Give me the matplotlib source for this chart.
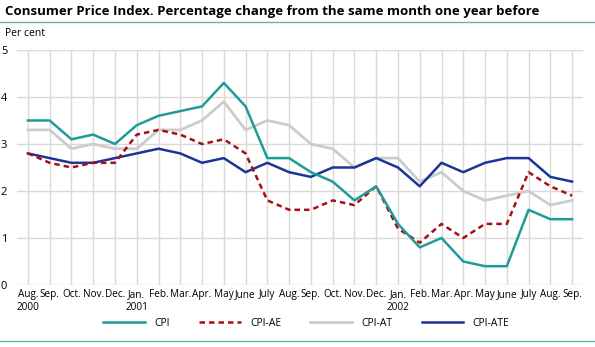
import matplotlib.pyplot as plt
import matplotlib.lines as mlines

plt.rcParams['font.family'] = ['Open Sans', 'DejaVu Sans']

months = ['Aug.', 'Sep.', 'Oct.', 'Nov.', 'Dec.', 'Jan.', 'Feb.', 'Mar.', 'Apr.', 'May', 'June', 'July',
          'Aug.', 'Sep.', 'Oct.', 'Nov.', 'Dec.', 'Jan.', 'Feb.', 'Mar.', 'Apr.', 'May', 'June', 'July',
          'Aug.', 'Sep.']
years = {0: '2000', 5: '2001', 17: '2002'}

cpi = [3.5, 3.5, 3.1, 3.2, 3.0, 3.4, 3.6, 3.7, 3.8, 4.3, 3.8, 2.7, 2.7,
       2.4, 2.2, 1.8, 2.1, 1.3, 0.8, 1.0, 0.5, 0.4, 0.4, 1.6, 1.4, 1.4]
cpi_ae = [2.8, 2.6, 2.5, 2.6, 2.6, 3.2, 3.3, 3.2, 3.0, 3.1, 2.8, 1.8, 1.6,
          1.6, 1.8, 1.7, 2.1, 1.2, 0.9, 1.3, 1.0, 1.3, 1.3, 2.4, 2.1, 1.9]
cpi_at = [3.3, 3.3, 2.9, 3.0, 2.9, 2.9, 3.3, 3.3, 3.5, 3.9, 3.3, 3.5, 3.4,
          3.0, 2.9, 2.5, 2.7, 2.7, 2.2, 2.4, 2.0, 1.8, 1.9, 2.0, 1.7, 1.8]
cpi_ate = [2.8, 2.7, 2.6, 2.6, 2.7, 2.8, 2.9, 2.8, 2.6, 2.7, 2.4, 2.6, 2.4,
           2.3, 2.5, 2.5, 2.7, 2.5, 2.1, 2.6, 2.4, 2.6, 2.7, 2.7, 2.3, 2.2]

teal = '#1f9c9a'
red = '#a50f15'
grey = '#cccccc'
navy = '#1c3496'

fig = plt.figure(figsize=(5.95, 3.47), dpi=100)
ax = fig.add_axes([17/595, 1 - 285/347, 566/595, 235/347])

x = range(len(months))
ax.plot(x, cpi_at, color=grey, lw=2, label='CPI-AT', zorder=3)
ax.plot(x, cpi_ate, color=navy, lw=1.8, label='CPI-ATE', zorder=4)
ax.plot(x, cpi_ae, color=red, lw=1.8, ls=(0, (2.2, 1.6)), label='CPI-AE', zorder=5)
ax.plot(x, cpi, color=teal, lw=1.8, label='CPI', zorder=6)

ax.set_xlim(-0.5, 25.5)
ax.set_ylim(0, 5)
ax.set_yticks([0, 1, 2, 3, 4, 5])
ax.set_xticks(list(x))
labels = [m + ('\n' + years[i] if i in years else '') for i, m in enumerate(months)]
ax.set_xticklabels(labels, fontsize=7.2, linespacing=1.25)
ax.tick_params(axis='x', length=0, pad=3)
ax.tick_params(axis='y', length=0, pad=7, labelsize=8)

ax.grid(True, color='#d9d9d9', lw=1)
ax.set_axisbelow(True)
for s in ax.spines.values():
    s.set_visible(False)

fig.text(5/595, 1 - 11/347, 'Consumer Price Index. Percentage change from the same month one year before',
         fontsize=9.5, fontweight='bold', va='center', ha='left')
fig.add_artist(mlines.Line2D([0, 1], [1 - 22/347, 1 - 22/347], color='#5fb3b3', lw=1))
fig.text(5/595, 1 - 33/347, 'Per cent', fontsize=7.5, va='center', ha='left')
fig.add_artist(mlines.Line2D([0, 1], [1 - 341/347, 1 - 341/347], color='#5fb3b3', lw=1))

handles = [ax.lines[3], ax.lines[2], ax.lines[0], ax.lines[1]]
fig.legend(handles, ['CPI', 'CPI-AE', 'CPI-AT', 'CPI-ATE'], loc='center', bbox_to_anchor=(0.515, 1 - 323/347),
           ncol=4, frameon=False, fontsize=7.5, handlelength=4, columnspacing=2.8, handletextpad=0.9)

fig.savefig('out.png', dpi=100)
